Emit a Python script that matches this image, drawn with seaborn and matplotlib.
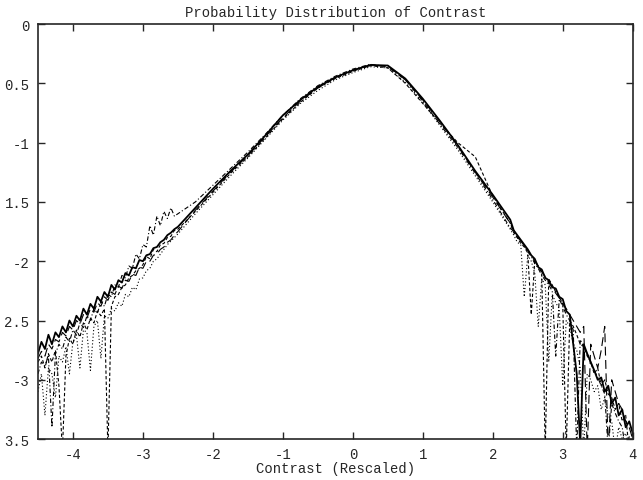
import numpy as np
import pandas as pd
import matplotlib
matplotlib.use('Agg')
import matplotlib.pyplot as plt
import seaborn as sns

# x grid: fine in the tails, coarse in the middle
x_left = np.round(np.arange(-4.5, -2.49, 0.05), 2)
x_mid = np.round(np.arange(-2.25, 2.26, 0.25), 2)
x_right = np.round(np.arange(2.3, 4.01, 0.05), 2)
x_all = np.concatenate([x_left, x_mid, x_right])

# log10 probability
solid_left = [-2.78, -2.68, -2.74, -2.62, -2.70, -2.60, -2.64, -2.55, -2.60, -2.50,
              -2.55, -2.46, -2.50, -2.40, -2.45, -2.36, -2.40, -2.30, -2.34, -2.26,
              -2.30, -2.20, -2.24, -2.16, -2.18, -2.10, -2.12, -2.05, -2.06, -1.99,
              -2.00, -1.95, -1.94, -1.89, -1.88, -1.84, -1.82, -1.78, -1.76, -1.73, -1.71]
solid_mid = [-1.55, -1.39, -1.24, -1.10, -0.94, -0.77, -0.64, -0.53, -0.45, -0.39,
             -0.345, -0.35, -0.46, -0.63, -0.82, -1.02, -1.24, -1.44, -1.65]
solid_right = [-1.74, -1.78, -1.82, -1.86, -1.90, -1.95, -1.98, -2.05, -2.07, -2.14,
               -2.16, -2.22, -2.23, -2.30, -2.32, -2.42, -2.45, -2.70, -2.95, -3.55,
               -2.70, -2.78, -2.85, -2.92, -3.00, -2.98, -3.10, -3.05, -3.20, -3.15,
               -3.30, -3.25, -3.40, -3.35, -3.45]

dashed_left = [-2.85, -2.80, -2.90, -2.78, -2.85, -2.75, -3.05, -3.60, -2.80, -2.65,
               -2.70, -2.58, -2.64, -2.52, -2.58, -2.48, -2.52, -2.42, -2.46, -2.40,
               -3.60, -2.38, -2.30, -2.28, -2.22, -2.20, -2.14, -2.12, -2.08, -2.06,
               -2.03, -1.96, -1.98, -1.90, -1.92, -1.86, -1.85, -1.80, -1.79, -1.74, -1.73]
dashed_mid = [-1.58, -1.42, -1.26, -1.12, -0.96, -0.80, -0.66, -0.54, -0.46, -0.40,
              -0.35, -0.37, -0.50, -0.67, -0.84, -1.00, -1.12, -1.45, -1.68]
dashed_right = [-1.76, -1.80, -1.85, -1.88, -1.93, -2.45, -2.00, -2.04, -2.10, -3.60,
                -2.15, -2.20, -2.26, -2.30, -2.36, -3.60, -2.50, -2.55, -2.62, -2.70,
                -2.72, -2.80, -2.85, -2.95, -2.90, -3.05, -3.00, -3.12, -3.15, -3.25,
                -3.20, -3.35, -3.30, -3.60, -3.45]

dotted_left = [-3.10, -2.95, -3.30, -2.90, -2.95, -3.15, -2.80, -2.85, -2.72, -2.95,
               -2.68, -2.62, -2.90, -2.58, -2.60, -2.92, -2.55, -2.50, -2.82, -2.46,
               -2.48, -2.40, -2.42, -2.35, -2.38, -2.28, -2.30, -2.22, -2.24, -2.15,
               -2.14, -2.08, -2.06, -2.00, -1.98, -1.94, -1.90, -1.86, -1.83, -1.80, -1.77]
dotted_mid = [-1.60, -1.44, -1.28, -1.13, -0.97, -0.81, -0.67, -0.56, -0.47, -0.41,
              -0.36, -0.37, -0.49, -0.66, -0.86, -1.06, -1.28, -1.50, -1.73]
dotted_right = [-1.78, -1.84, -1.86, -2.30, -1.95, -2.00, -2.10, -2.55, -2.15, -2.20,
                -2.85, -2.28, -2.35, -2.40, -3.05, -2.50, -2.55, -2.70, -2.75, -2.90,
                -3.60, -2.95, -3.00, -3.10, -3.05, -3.25, -3.15, -3.30, -3.35, -3.60,
                -3.40, -3.50, -3.45, -3.60, -3.60]

dashdot_left = [-2.95, -2.85, -2.88, -2.80, -3.40, -2.78, -2.70, -2.74, -2.64, -2.68,
                -2.58, -2.62, -2.52, -2.56, -2.46, -2.50, -2.40, -2.44, -2.34, -2.38,
                -2.28, -2.30, -2.20, -2.22, -2.12, -2.14, -2.04, -2.06, -1.94, -1.98,
                -1.86, -1.88, -1.70, -1.78, -1.62, -1.70, -1.58, -1.64, -1.55, -1.62, -1.60]
dashdot_mid = [-1.50, -1.36, -1.22, -1.08, -0.93, -0.77, -0.63, -0.52, -0.44, -0.38,
               -0.34, -0.36, -0.47, -0.65, -0.85, -1.04, -1.26, -1.48, -1.72]
dashdot_right = [-1.75, -1.80, -1.83, -1.87, -1.92, -1.96, -2.02, -2.06, -2.12, -2.16,
                 -2.20, -2.25, -2.80, -2.32, -2.38, -2.45, -2.50, -2.58, -3.60, -2.66,
                 -2.72, -2.78, -2.86, -2.92, -2.98, -3.05, -3.12, -3.60, -3.20, -3.28,
                 -3.35, -3.40, -3.60, -3.48, -3.55]

longdash_left = [-2.82, -2.76, -2.80, -2.70, -2.74, -2.66, -2.68, -2.60, -2.63, -2.55,
                 -2.58, -2.50, -2.53, -2.45, -2.48, -2.40, -2.43, -2.35, -2.38, -2.30,
                 -2.33, -2.26, -2.28, -2.21, -2.23, -2.16, -2.17, -2.11, -2.12, -2.05,
                 -2.06, -2.00, -2.00, -1.95, -1.94, -1.90, -1.88, -1.84, -1.82, -1.78, -1.75]
longdash_mid = [-1.57, -1.41, -1.25, -1.11, -0.95, -0.79, -0.65, -0.54, -0.45, -0.39,
                -0.35, -0.355, -0.47, -0.64, -0.83, -1.03, -1.25, -1.46, -1.68]
longdash_right = [-1.74, -1.79, -1.83, -1.87, -1.91, -1.95, -2.00, -2.04, -2.09, -2.13,
                  -2.18, -2.22, -2.27, -2.31, -2.36, -2.40, -2.45, -2.50, -2.55, -2.60,
                  -2.55, -3.60, -2.70, -2.80, -2.90, -2.75, -2.55, -3.60, -3.00, -3.10,
                  -3.20, -3.25, -3.35, -3.40, -3.50]

y_ticks = [0, -0.5, -1, -1.5, -2, -2.5, -3, -3.5]
y_tick_labels = ['0', '0.5', '-1', '1.5', '-2', '2.5', '-3', '3.5']
x_ticks = [-4, -3, -2, -1, 0, 1, 2, 3, 4]

series = {
    'dotted': (dotted_left + dotted_mid + dotted_right, (0, (1, 2)), 0.8),
    'dashdot': (dashdot_left + dashdot_mid + dashdot_right, (0, (4, 2, 1, 2)), 0.8),
    'dashed': (dashed_left + dashed_mid + dashed_right, (0, (3, 2)), 0.8),
    'longdash': (longdash_left + longdash_mid + longdash_right, (0, (8, 4)), 0.8),
    'solid': (solid_left + solid_mid + solid_right, '-', 1.3),
}

sns.set_style('ticks')
plt.rcParams['font.family'] = ['Liberation Mono', 'DejaVu Sans Mono']
plt.rcParams['axes.unicode_minus'] = False

fig = plt.figure(figsize=(6.43, 4.81), dpi=100)
ax = fig.add_axes([0.059, 0.085, 0.925, 0.863])

for name, (vals, ls, lw) in series.items():
    df = pd.DataFrame({'x': x_all, 'y': vals})
    sns.lineplot(data=df, x='x', y='y', color='black', linestyle=ls,
                 linewidth=lw, ax=ax, estimator=None, sort=False)

ax.set_xlim(-4.5, 4)
ax.set_ylim(-3.5, 0)
ax.set_xticks(x_ticks)
ax.set_yticks(y_ticks)
ax.set_yticklabels(y_tick_labels)
ax.tick_params(direction='in', length=5, width=1, top=True, right=True,
               labelsize=10, pad=6)
for sp in ax.spines.values():
    sp.set_linewidth(1.2)
ax.set_title('Probability Distribution of Contrast', fontsize=10, pad=6)
ax.set_xlabel('Contrast (Rescaled)', fontsize=10, labelpad=0)
ax.set_ylabel('')

fig.savefig('out.png', dpi=100)
